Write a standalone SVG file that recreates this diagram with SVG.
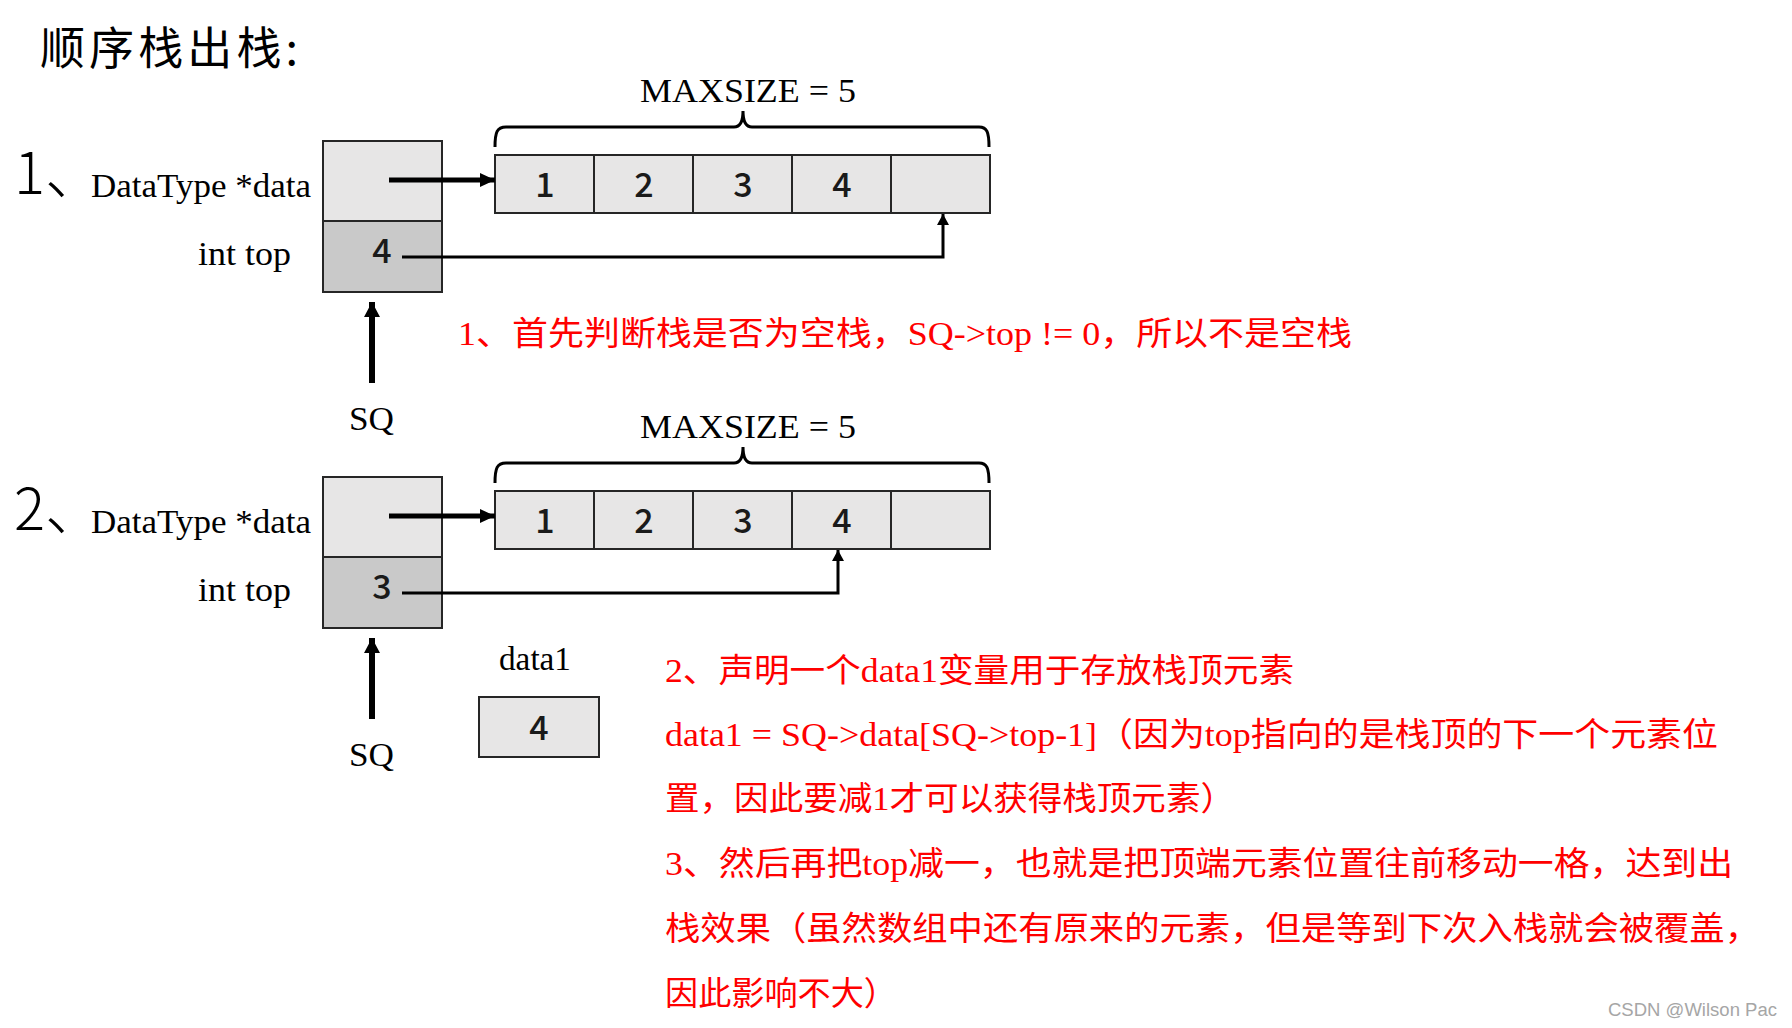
<svg xmlns="http://www.w3.org/2000/svg" width="1792" height="1028" viewBox="0 0 1792 1028">
<style>
.bg{fill:#ffffff}
.cellL{fill:#e7e6e6;stroke:#262626;stroke-width:2}
.cellD{fill:#c9c9c9;stroke:#262626;stroke-width:2}
.num{font-family:"Noto Sans CJK SC","Liberation Sans",sans-serif;font-size:34px;font-weight:500;fill:#1a1a1a;text-anchor:middle}
.lbl{font-family:"Liberation Serif",serif;font-size:34px;fill:#000}
.idx{font-family:"Noto Sans CJK SC",sans-serif;font-size:58px;font-weight:300;fill:#000}
.red{font-family:"Liberation Serif","Noto Sans CJK SC",serif;font-size:33px;fill:#ff0000}
.title{font-family:"Noto Sans CJK SC",sans-serif;font-size:45px;fill:#000}
.wm{font-family:"Liberation Sans",sans-serif;font-size:18px;fill:#a6a6a6}
.thick{stroke:#000;stroke-width:5;fill:none}
.thin{stroke:#000;stroke-width:3;fill:none}
.brace{stroke:#000;stroke-width:3;fill:none}
</style>
<defs>
<marker id="headBig" markerUnits="userSpaceOnUse" markerWidth="16" markerHeight="16" refX="15" refY="7" orient="auto"><path d="M0,0 L15,7 L0,14 Z" fill="#000"/></marker>
<marker id="headSmall" markerUnits="userSpaceOnUse" markerWidth="12" markerHeight="12" refX="11" refY="6" orient="auto"><path d="M0,0 L11,6 L0,12 Z" fill="#000"/></marker>
<marker id="headSQ" markerUnits="userSpaceOnUse" markerWidth="16" markerHeight="16" refX="15" refY="8" orient="auto"><path d="M0,0 L15,8 L0,16 Z" fill="#000"/></marker>
</defs>
<rect class="bg" x="0" y="0" width="1792" height="1028"/>

<g id="title"><text class="title" x="40" y="65" textLength="258" lengthAdjust="spacing">顺序栈出栈:</text></g>

<!-- Section 1 -->
<g id="s1-labels">
<text class="idx" x="14" y="194">1、</text>
<text class="lbl" x="91" y="197" textLength="220" lengthAdjust="spacingAndGlyphs">DataType *data</text>
<text class="lbl" x="198" y="265" textLength="93" lengthAdjust="spacingAndGlyphs">int top</text>
</g>
<g id="s1-struct">
<rect class="cellL" x="323" y="141" width="119" height="80"/>
<rect class="cellD" x="323" y="221" width="119" height="71"/>
<text class="num" x="382" y="263">4</text>
</g>
<g id="s1-array">
<rect class="cellL" x="495" y="155" width="99" height="58"/>
<rect class="cellL" x="594" y="155" width="99" height="58"/>
<rect class="cellL" x="693" y="155" width="99" height="58"/>
<rect class="cellL" x="792" y="155" width="99" height="58"/>
<rect class="cellL" x="891" y="155" width="99" height="58"/>
<text class="num" x="545" y="197">1</text>
<text class="num" x="644" y="197">2</text>
<text class="num" x="743" y="197">3</text>
<text class="num" x="842" y="197">4</text>
</g>
<g id="s1-maxsize">
<path class="brace" d="M495,147 C495,132 497,127 506,127 L734,127 C740,127 743,122 743,111 C743,122 746,127 752,127 L979,127 C987,127 989,132 989,147"/>
<text class="lbl" x="640" y="102" textLength="216" lengthAdjust="spacingAndGlyphs">MAXSIZE = 5</text>
</g>
<g id="s1-sq"><text class="lbl" x="349" y="430" textLength="45" lengthAdjust="spacingAndGlyphs">SQ</text></g>
<g id="s1-note"><text class="red" x="458" y="345" textLength="894" lengthAdjust="spacingAndGlyphs">1、首先判断栈是否为空栈，SQ-&gt;top != 0，所以不是空栈</text></g>

<!-- Section 2 -->
<g id="s2-labels">
<text class="idx" x="14" y="530">2、</text>
<text class="lbl" x="91" y="533" textLength="220" lengthAdjust="spacingAndGlyphs">DataType *data</text>
<text class="lbl" x="198" y="601" textLength="93" lengthAdjust="spacingAndGlyphs">int top</text>
</g>
<g id="s2-struct">
<rect class="cellL" x="323" y="477" width="119" height="80"/>
<rect class="cellD" x="323" y="557" width="119" height="71"/>
<text class="num" x="382" y="599">3</text>
</g>
<g id="s2-array">
<rect class="cellL" x="495" y="491" width="99" height="58"/>
<rect class="cellL" x="594" y="491" width="99" height="58"/>
<rect class="cellL" x="693" y="491" width="99" height="58"/>
<rect class="cellL" x="792" y="491" width="99" height="58"/>
<rect class="cellL" x="891" y="491" width="99" height="58"/>
<text class="num" x="545" y="533">1</text>
<text class="num" x="644" y="533">2</text>
<text class="num" x="743" y="533">3</text>
<text class="num" x="842" y="533">4</text>
</g>
<g id="s2-maxsize">
<path class="brace" d="M495,483 C495,468 497,463 506,463 L734,463 C740,463 743,458 743,447 C743,458 746,463 752,463 L979,463 C987,463 989,468 989,483"/>
<text class="lbl" x="640" y="438" textLength="216" lengthAdjust="spacingAndGlyphs">MAXSIZE = 5</text>
</g>
<g id="s2-sq"><text class="lbl" x="349" y="766" textLength="45" lengthAdjust="spacingAndGlyphs">SQ</text></g>
<g id="s2-data1">
<text class="lbl" x="499" y="670" textLength="72" lengthAdjust="spacingAndGlyphs">data1</text>
<rect class="cellL" x="479" y="697" width="120" height="60"/>
<text class="num" x="539" y="740">4</text>
</g>
<g id="s2-notes">
<text class="red" x="665" y="682" textLength="629" lengthAdjust="spacingAndGlyphs">2、声明一个data1变量用于存放栈顶元素</text>
<text class="red" x="665" y="746" textLength="1053" lengthAdjust="spacingAndGlyphs">data1 = SQ-&gt;data[SQ-&gt;top-1]（因为top指向的是栈顶的下一个元素位</text>
<text class="red" x="665" y="810" textLength="570" lengthAdjust="spacingAndGlyphs">置，因此要减1才可以获得栈顶元素）</text>
<text class="red" x="665" y="875" textLength="1068" lengthAdjust="spacingAndGlyphs">3、然后再把top减一，也就是把顶端元素位置往前移动一格，达到出</text>
<text class="red" x="665" y="940" textLength="1095" lengthAdjust="spacingAndGlyphs">栈效果（虽然数组中还有原来的元素，但是等到下次入栈就会被覆盖，</text>
<text class="red" x="665" y="1005" textLength="232" lengthAdjust="spacingAndGlyphs">因此影响不大）</text>
</g>
<g id="watermark"><text class="wm" x="1608" y="1016" textLength="169" lengthAdjust="spacingAndGlyphs">CSDN @Wilson Pac</text></g>

<g id="connectors">
<line class="thick" x1="389" y1="180" x2="495" y2="180" marker-end="url(#headBig)"/>
<polyline class="thin" points="402,257 943,257 943,214" marker-end="url(#headSmall)"/>
<line x1="372" y1="383" x2="372" y2="302" stroke="#000" stroke-width="6" marker-end="url(#headSQ)"/>
<line class="thick" x1="389" y1="516" x2="495" y2="516" marker-end="url(#headBig)"/>
<polyline class="thin" points="402,593 838,593 838,550" marker-end="url(#headSmall)"/>
<line x1="372" y1="719" x2="372" y2="638" stroke="#000" stroke-width="6" marker-end="url(#headSQ)"/>
</g>
</svg>
